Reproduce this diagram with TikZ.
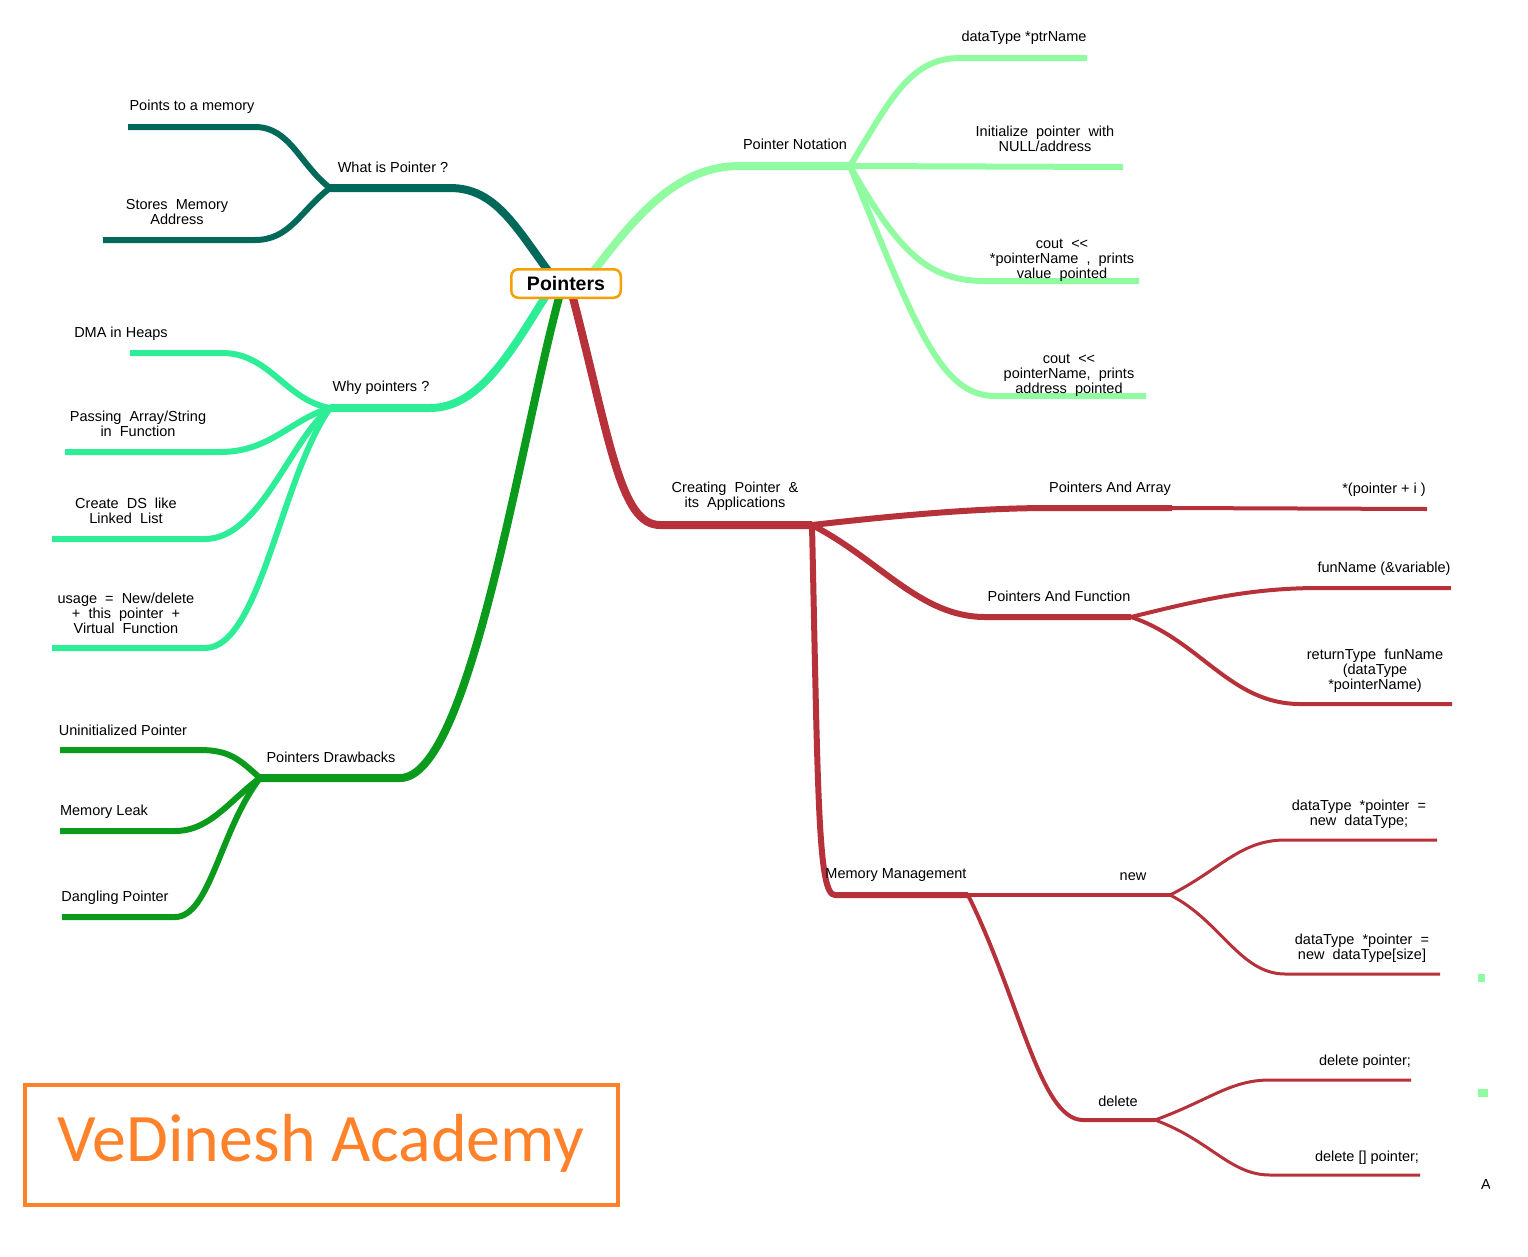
\documentclass[tikz,border=0pt]{standalone}
\usepackage{fontspec}
\setmainfont{Liberation Sans}
\newfontfamily\brandfont{Carlito}
\definecolor{whatcol}{HTML}{00695A}
\definecolor{notecol}{HTML}{90FBA0}
\definecolor{whycol}{HTML}{2DEE97}
\definecolor{drawcol}{HTML}{0A9A1C}
\definecolor{appcol}{HTML}{B6313A}
\definecolor{rootcol}{HTML}{F5A000}
\definecolor{brandcol}{HTML}{FF8129}

\begin{document}
\begin{tikzpicture}[x=1pt, y=-1pt]

    % Define block styles
    \tikzstyle{root} = [rectangle, draw=rootcol, fill=white, line width=2.5pt,
        rounded corners=7pt, minimum width=109.5pt, minimum height=28.5pt,
        inner sep=0pt, font=\fontsize{19.5}{22}\selectfont\bfseries]
    \tikzstyle{topic} = [align=center, inner sep=0pt, yshift=-1.5pt,
        font=\fontsize{14.5}{15}\selectfont]
    \tikzstyle{brand} = [rectangle, draw=brandcol, line width=4pt,
        minimum width=593pt, minimum height=120pt]
    \tikzstyle{trunk} = [line width=8pt]
    \tikzstyle{bough} = [line width=6pt]
    \tikzstyle{twig} = [line width=4pt]
    \tikzstyle{leaf} = [line width=3pt]

    \useasboundingbox (0,0) rectangle (1528,1256);

    % Place junctions
    \coordinate (whatroot) at (549,272);
    \coordinate (noteroot) at (593,272);
    \coordinate (whyroot) at (547,294);
    \coordinate (drawroot) at (560,294);
    \coordinate (approot) at (572,294);
    \coordinate (what) at (330,188);
    \coordinate (note) at (850,166);
    \coordinate (why) at (330,408);
    \coordinate (drawb) at (260,778);
    \coordinate (app) at (812,525);
    \coordinate (parray) at (1172,508);
    \coordinate (pfunc) at (1131,617);
    \coordinate (mem) at (968,895);
    \coordinate (new) at (1170,895);
    \coordinate (del) at (1155,1120);

    % Draw edges
    \draw [whatcol, trunk] (whatroot) .. controls (515,226) and (495,188) .. (450,188) -- (what);
    \draw [whatcol, bough] (what) .. controls (300,165) and (290,127) .. (255,127) -- (128,127);
    \draw [whatcol, bough] (what) .. controls (300,211) and (290,240) .. (255,240) -- (103,240);

    \draw [notecol, trunk] (noteroot) .. controls (640,210) and (680,166) .. (740,166) -- (note);
    \draw [notecol, bough] (note) .. controls (890,100) and (910,58) .. (960,58) -- (1087,58);
    \draw [notecol, bough] (note) -- (1123,167);
    \draw [notecol, bough] (note) .. controls (900,255) and (930,281) .. (985,281) -- (1139,281);
    \draw [notecol, bough] (note) .. controls (915,325) and (940,396) .. (995,396) -- (1146,396);

    \draw [whycol, trunk] (whyroot) .. controls (512,350) and (480,408) .. (430,408) -- (why);
    \draw [whycol, bough] (why) .. controls (285,400) and (270,353) .. (222,353) -- (130,353);
    \draw [whycol, bough] (why) .. controls (290,420) and (270,452) .. (220,452) -- (65,452);
    \draw [whycol, bough] (why) .. controls (290,440) and (260,539) .. (205,539) -- (52,539);
    \draw [whycol, bough] (why) .. controls (280,480) and (260,648) .. (205,648) -- (52,648);

    \draw [drawcol, trunk] (drawroot) .. controls (520,440) and (470,778) .. (400,778) -- (drawb);
    \draw [drawcol, bough] (drawb) .. controls (240,760) and (230,750) .. (200,750) -- (60,750);
    \draw [drawcol, bough] (drawb) .. controls (230,800) and (210,831) .. (175,831) -- (60,831);
    \draw [drawcol, bough] (drawb) .. controls (220,830) and (210,917) .. (175,917) -- (62,917);

    \draw [appcol, trunk] (approot) .. controls (610,440) and (620,525) .. (660,525) -- (app);
    \draw [appcol, bough] (app) .. controls (900,515) and (980,508) .. (1050,508) -- (parray);
    \draw [appcol, twig] (parray) -- (1427,509);
    \draw [appcol, bough] (app) .. controls (880,560) and (920,617) .. (985,617) -- (pfunc);
    \draw [appcol, twig] (pfunc) .. controls (1200,600) and (1250,588) .. (1320,588) -- (1451,588);
    \draw [appcol, twig] (pfunc) .. controls (1200,640) and (1230,704) .. (1300,704) -- (1452,704);
    \draw [appcol, bough] (app) .. controls (818,800) and (818,895) .. (835,895) -- (mem);
    \draw [appcol, twig] (mem) -- (new);
    \draw [appcol, leaf] (new) .. controls (1220,870) and (1240,840) .. (1285,840) -- (1437,840);
    \draw [appcol, leaf] (new) .. controls (1220,920) and (1240,974) .. (1285,974) -- (1440,974);
    \draw [appcol, twig] (mem) .. controls (1020,1000) and (1040,1120) .. (1083,1120) -- (del);
    \draw [appcol, leaf] (del) .. controls (1210,1100) and (1230,1080) .. (1270,1080) -- (1411,1080);
    \draw [appcol, leaf] (del) .. controls (1210,1140) and (1230,1175) .. (1270,1175) -- (1420,1175);

    % Place nodes
    \node [root] (pointers) at (566,283.5) {Pointers};

    \node [topic] (whatis) at (393,166) {What is Pointer ?};
    \node [topic] (pointsto) at (192,105) {Points to a memory};
    \node [topic] (stores) at (177,211) {Stores\ \ Memory\\Address};

    \node [topic] (notation) at (795,143) {Pointer Notation};
    \node [topic] (ptrname) at (1024,36) {dataType *ptrName};
    \node [topic] (init) at (1045,137) {Initialize\ \ pointer\ \ with\\NULL/address};
    \node [topic] (coutval) at (1062,259) {cout\ \ <\kern0pt<\\{}*pointerName\ \ ,\ \ prints\\value\ \ pointed};
    \node [topic] (coutadr) at (1069,374) {cout\ \ <\kern0pt<\\pointerName,\ \ prints\\address\ \ pointed};

    \node [topic] (whyptr) at (381,386) {Why pointers ?};
    \node [topic] (dma) at (121,332) {DMA in Heaps};
    \node [topic] (passing) at (138,422) {Passing\ \ Array/String\\in\ \ Function};
    \node [topic] (create) at (126,509) {Create\ \ DS\ \ like\\Linked\ \ List};
    \node [topic] (usage) at (126,612) {usage\ \ =\ \ New/delete\\+\ \ this\ \ pointer\ \ +\\Virtual\ \ Function};

    \node [topic] (drawbacks) at (331,756) {Pointers Drawbacks};
    \node [topic] (uninit) at (123,729) {Uninitialized Pointer};
    \node [topic] (leak) at (104,810) {Memory Leak};
    \node [topic] (dangling) at (115,896) {Dangling Pointer};

    \node [topic] (creating) at (735,495) {Creating\ \ Pointer\ \ \&\\its\ \ Applications};
    \node [topic] (andarray) at (1110,487) {Pointers And Array};
    \node [topic] (plusi) at (1384,488) {*(pointer + i )};
    \node [topic] (andfunc) at (1059,595) {Pointers And Function};
    \node [topic] (funname) at (1384,567) {funName (\&variable)};
    \node [topic] (rettype) at (1375,669) {returnType\ \ funName\\(dataType\\{}*pointerName)};
    \node [topic] (memmgmt) at (896,874) {Memory Management};
    \node [topic] (newop) at (1133,875) {new};
    \node [topic] (newone) at (1359,813) {dataType\ \ *pointer\ \ =\\new\ \ dataType;};
    \node [topic] (newarr) at (1362,947) {dataType\ \ *pointer\ \ =\\new\ \ dataType[size]};
    \node [topic] (delop) at (1118,1100) {delete};
    \node [topic] (delone) at (1365,1060) {delete pointer;};
    \node [topic] (delarr) at (1367,1156) {delete [] pointer;};

    % Brand box
    \node [brand] (brandbox) at (321.5,1145) {};
    \node [anchor=base, text=brandcol, inner sep=0pt,
        font=\brandfont\fontsize{68}{70}\selectfont] (brandname) at (321,1161) {VeDinesh Academy};

    % Cut-off bits at the right edge
    \fill [notecol] (1478,974) rectangle (1485,982);
    \fill [notecol] (1478,1089) rectangle (1488,1097);
    \begin{scope}
        \clip (1470,1165) rectangle (1489.5,1200);
        \node [topic, anchor=base west] (cut) at (1481,1188) {A};
    \end{scope}

\end{tikzpicture}
\end{document}
